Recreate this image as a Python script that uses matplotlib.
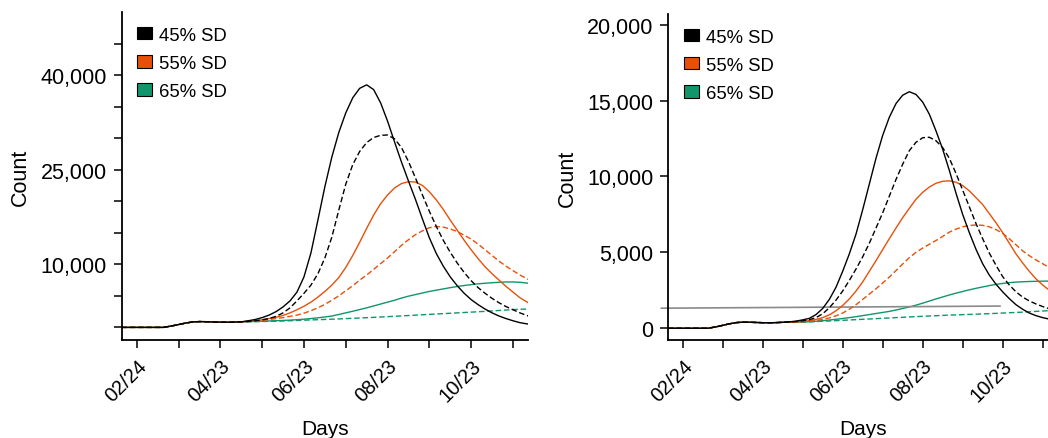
# %% Projected daily counts under three social-distancing (SD) levels, two panels

import numpy as np
import matplotlib
matplotlib.use('Agg')
import matplotlib.pyplot as plt
from matplotlib.patches import Patch
from matplotlib.ticker import FuncFormatter, FixedLocator

plt.rcParams['font.family'] = ['Liberation Sans', 'DejaVu Sans']

# %% Data (day 0 = 02/24)

days_early = [-11, 0, 10, 19, 25, 30, 35, 40, 45, 50, 55, 60, 65, 70, 75]
days_late = [80, 85, 90, 95, 100, 105, 110, 115, 120, 125, 130, 135, 140, 145, 150, 155, 160,
             165, 170, 175, 180, 185, 190, 195, 200, 205, 210, 215, 220, 225, 230, 235, 240,
             245, 250, 255, 260, 265, 270, 275, 281]

# left panel
early_left = [0, 0, 0, 0, 220, 450, 680, 860, 920, 900, 860, 830, 820, 840, 880]
left_45 = [1050, 1250, 1550, 1950, 2500, 3250, 4200, 5600, 8000, 11800, 17000, 22300, 27000,
           30900, 34000, 36400, 37900, 38450, 37700, 35600, 32700, 29400, 26200, 23200, 20300,
           17200, 14200, 11700, 9700, 8000, 6600, 5400, 4400, 3600, 2900, 2300, 1800, 1400,
           1050, 750, 520]
left_45_d = [950, 1050, 1200, 1400, 1750, 2300, 3100, 4200, 5400, 6700, 8500, 11000, 14300,
             18600, 22700, 25800, 27900, 29300, 30100, 30450, 30500, 29900, 28500, 26300,
             23700, 21000, 18400, 16000, 13800, 11900, 10200, 8700, 7400, 6300, 5400, 4600,
             3900, 3300, 2800, 2300, 1800]
left_55 = [950, 1050, 1200, 1400, 1600, 1900, 2300, 2800, 3350, 4000, 4800, 5700, 6700, 7900,
           9500, 11400, 13500, 15700, 17800, 19600, 21000, 22100, 22800, 23100, 23050, 22500,
           21500, 20200, 18700, 17000, 15400, 13800, 12300, 10900, 9600, 8500, 7500, 6500,
           5600, 4700, 3900]
left_55_d = [930, 1000, 1100, 1250, 1400, 1550, 1750, 1950, 2250, 2650, 3100, 3650, 4300, 5000,
             5800, 6600, 7500, 8300, 9200, 10100, 11000, 12000, 13000, 13900, 14700, 15300,
             15800, 16000, 15900, 15600, 15200, 14600, 14000, 13200, 12300, 11400, 10500,
             9700, 9000, 8300, 7600]
left_65 = [900, 950, 980, 1020, 1060, 1100, 1150, 1220, 1300, 1400, 1520, 1650, 1800, 2050,
           2300, 2560, 2830, 3100, 3400, 3700, 4000, 4300, 4650, 4950, 5200, 5450, 5700, 5900,
           6100, 6300, 6480, 6640, 6780, 6900, 7000, 7080, 7150, 7200, 7200, 7150, 7000]
left_65_d = [900, 910, 930, 960, 990, 1020, 1060, 1100, 1140, 1180, 1220, 1260, 1300, 1340,
             1390, 1440, 1490, 1540, 1590, 1640, 1700, 1760, 1820, 1880, 1940, 2000, 2060,
             2120, 2180, 2240, 2300, 2360, 2420, 2480, 2540, 2610, 2680, 2750, 2820, 2880, 2900]

# right panel
early_right = [0, 0, 0, 0, 90, 190, 290, 370, 400, 395, 380, 365, 360, 370, 390]
right_45 = [420, 470, 550, 650, 900, 1300, 1900, 2700, 3750, 4900, 6200, 7800, 9500, 11200,
            12700, 13900, 14800, 15350, 15580, 15400, 14900, 14100, 13000, 11800, 10400, 8900,
            7500, 6300, 5200, 4250, 3500, 2900, 2400, 1950, 1550, 1250, 1000, 830, 700, 600, 500]
right_45_d = [410, 440, 490, 560, 700, 950, 1350, 1850, 2450, 3150, 3900, 4700, 5600, 6600,
              7600, 8700, 9800, 10800, 11700, 12250, 12550, 12580, 12350, 11900, 11200, 10200,
              9100, 8000, 6900, 5900, 4950, 4150, 3400, 2850, 2400, 2050, 1800, 1600, 1430,
              1280, 1150]
right_55 = [405, 420, 450, 500, 580, 700, 880, 1150, 1500, 1930, 2450, 3050, 3750, 4450, 5180,
            5900, 6600, 7280, 7900, 8500, 8950, 9300, 9550, 9680, 9710, 9620, 9400, 9050, 8600,
            8150, 7550, 6950, 6300, 5600, 4900, 4300, 3750, 3250, 2850, 2500, 2150]
right_55_d = [400, 410, 430, 460, 510, 580, 680, 820, 1000, 1250, 1550, 1900, 2250, 2600, 2980,
              3370, 3800, 4230, 4650, 5000, 5280, 5530, 5780, 6050, 6330, 6530, 6680, 6770,
              6800, 6780, 6680, 6500, 6250, 5900, 5500, 5100, 4780, 4500, 4250, 4000, 3750]
right_65 = [400, 400, 410, 430, 460, 500, 540, 590, 640, 700, 760, 830, 900, 970, 1040, 1110,
            1200, 1300, 1400, 1520, 1650, 1790, 1930, 2060, 2190, 2310, 2420, 2530, 2630, 2720,
            2810, 2890, 2950, 3000, 3040, 3060, 3080, 3090, 3100, 3110, 3110]
right_65_d = [400, 400, 405, 420, 440, 460, 480, 500, 520, 545, 565, 590, 610, 630, 655, 675,
              700, 720, 745, 765, 785, 805, 825, 845, 865, 880, 895, 910, 925, 945, 960, 980,
              1000, 1020, 1040, 1060, 1085, 1110, 1135, 1160, 1180]

# capacity line shown on the right panel
capacity_days = [-16, 238]
capacity_vals = [1320, 1460]

sd_labels = ['45% SD', '55% SD', '65% SD']
sd_colors = ['#000000', '#E8500A', '#10966A']

tick_days = [0, 60, 120, 180, 240]
tick_labels = ['02/24', '04/23', '06/23', '08/23', '10/23']
minor_days = [30, 90, 150, 210, 270]

# %% Build figure

W, H = 1048, 439
fig = plt.figure(figsize=(W / 100, H / 100), dpi=100)
fig.set_facecolor('white')

ax_l = fig.add_axes([121.7 / W, (H - 341) / H, 406.6 / W, 328 / H])
ax_r = fig.add_axes([668.3 / W, (H - 341) / H, 389.0 / W, 326 / H])

days = np.array(days_early + days_late)

panels = [
    (ax_l, early_left, [left_45, left_45_d, left_55, left_55_d, left_65, left_65_d]),
    (ax_r, early_right, [right_45, right_45_d, right_55, right_55_d, right_65, right_65_d]),
]

for ax, early, series in panels:
    for i, vals in enumerate(series):
        col = sd_colors[i // 2]
        ls = '-' if i % 2 == 0 else (0, (4, 2))
        ax.plot(days, early + vals, color=col, lw=1.0, ls=ls, zorder=3 - i // 2)

ax_r.plot(capacity_days, capacity_vals, color='#8a8a8a', lw=1.2, clip_on=False, zorder=1)

# %% Axes styling

comma = FuncFormatter(lambda v, p: f"{int(v):,}")

for ax in (ax_l, ax_r):
    ax.set_xlim(-10.8, 281)
    for s in ('top', 'right'):
        ax.spines[s].set_visible(False)
    for s in ('left', 'bottom'):
        ax.spines[s].set_linewidth(1.3)
    ax.set_xticks(tick_days)
    ax.set_xticklabels(tick_labels, rotation=45, ha='right', va='top',
                       rotation_mode='anchor', fontsize=14.5)
    ax.xaxis.set_minor_locator(FixedLocator(minor_days))
    ax.tick_params(axis='both', which='both', length=5.5, width=1.1, direction='out')
    ax.tick_params(axis='x', which='major', pad=6)
    ax.tick_params(axis='y', labelsize=15.5, pad=5)
    ax.yaxis.set_major_formatter(comma)
    ax.set_xlabel('Days', fontsize=15, labelpad=10)
    ax.set_ylabel('Count', fontsize=15.5, labelpad=7)
    handles = [Patch(facecolor=c, edgecolor='black', lw=0.8) for c in sd_colors]
    ax.legend(handles, sd_labels, frameon=False, fontsize=13.3, loc='upper left',
              handlelength=0.8, handleheight=0.65, handletextpad=0.4,
              labelspacing=0.6, borderpad=0, borderaxespad=0)

ax_l.set_ylim(-2000, 50000)
ax_l.set_yticks([10000, 25000, 40000])
ax_l.yaxis.set_minor_locator(FixedLocator([0, 5000, 15000, 20000, 30000, 35000, 45000]))
ax_l.get_legend().set_bbox_to_anchor((0.038, 0.955))

ax_r.set_ylim(-775, 20700)
ax_r.set_yticks([0, 5000, 10000, 15000, 20000])
ax_r.get_legend().set_bbox_to_anchor((0.040, 0.955))

fig.savefig('out.png', dpi=100, facecolor='white')
